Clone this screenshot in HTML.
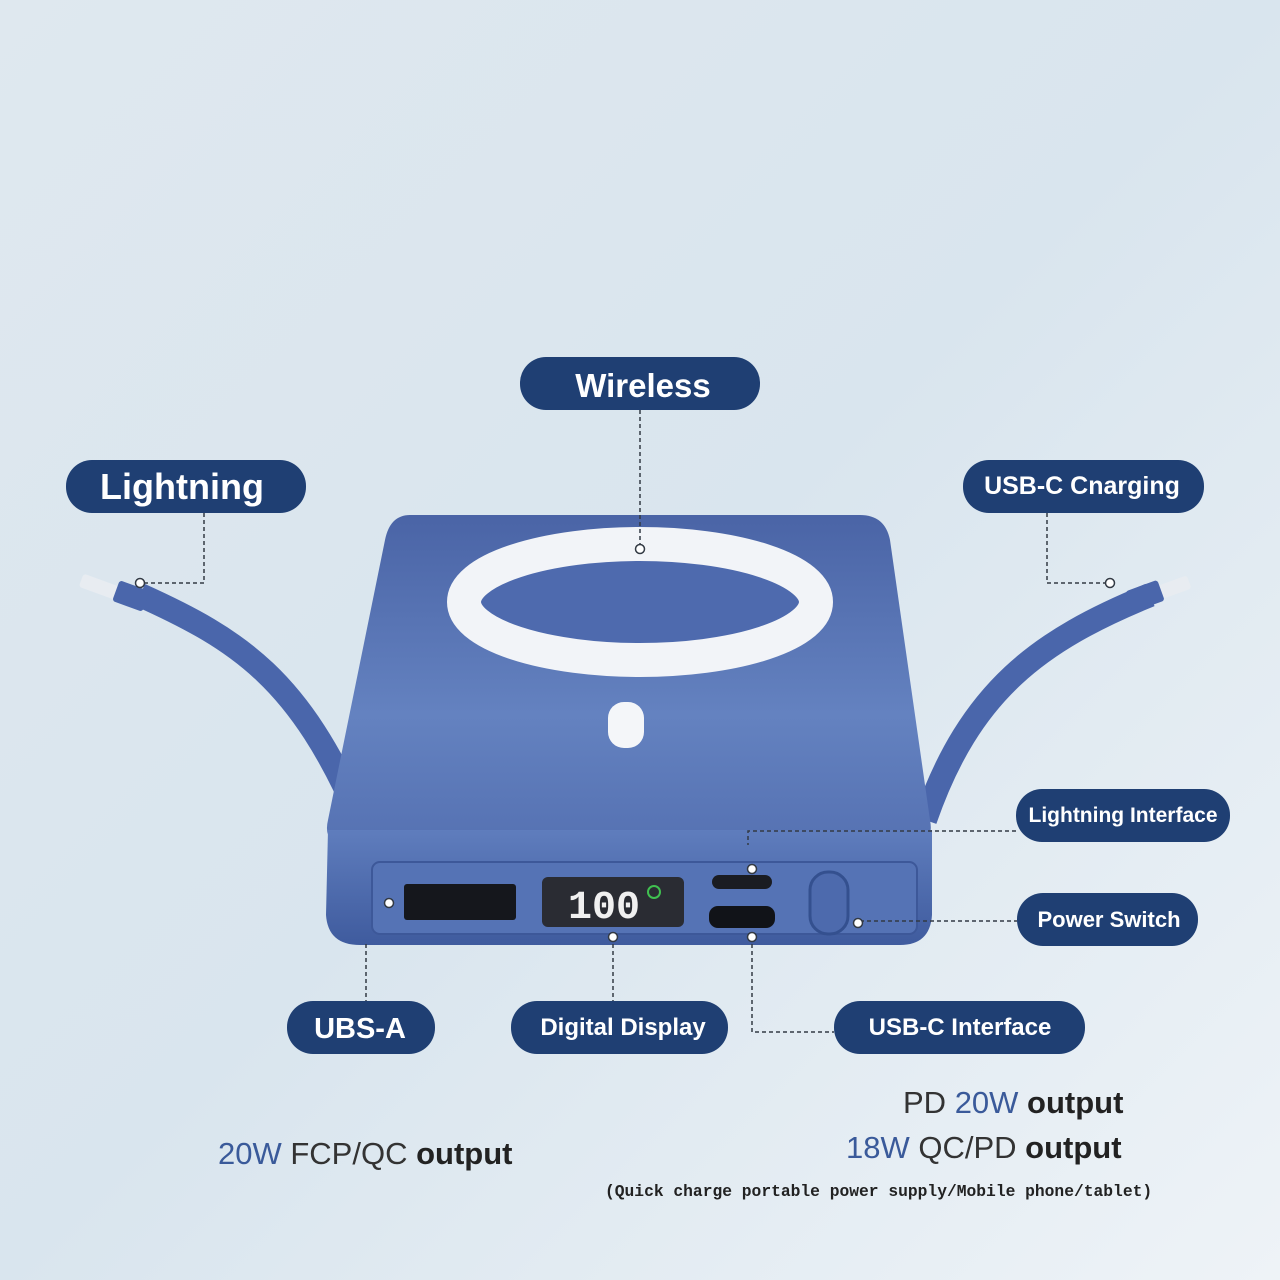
<!DOCTYPE html>
<html><head><meta charset="utf-8"><style>
html,body{margin:0;padding:0;width:1280px;height:1280px;overflow:hidden}
svg{display:block}
.lb{font-family:"Liberation Sans",sans-serif;font-weight:bold;fill:#fff}
</style></head><body>
<svg width="1280" height="1280" viewBox="0 0 1280 1280" xmlns="http://www.w3.org/2000/svg">
<defs>
<linearGradient id="bg" x1="0" y1="0" x2="1" y2="1">
<stop offset="0" stop-color="#dfe8ef"/><stop offset="0.5" stop-color="#d9e5ee"/><stop offset="1" stop-color="#eef3f7"/>
</linearGradient>
<linearGradient id="top" x1="0" y1="0" x2="0" y2="1">
<stop offset="0" stop-color="#4a64a6"/><stop offset="0.6" stop-color="#6482c0"/><stop offset="1" stop-color="#5571b2"/>
</linearGradient>
<linearGradient id="front" x1="0" y1="0" x2="0" y2="1">
<stop offset="0" stop-color="#5f7dbd"/><stop offset="1" stop-color="#3f5b9e"/>
</linearGradient>
</defs>
<rect width="1280" height="1280" fill="url(#bg)"/>
<path d="M140 595 C240 640 300 680 360 820" stroke="#4a66ab" stroke-width="24" fill="none"/>
<path d="M1150 595 C1040 640 970 690 925 820" stroke="#4a66ab" stroke-width="24" fill="none"/>
<rect x="80" y="580" width="40" height="14" rx="3" fill="#e8ecf1" transform="rotate(20 100 587)"/>
<rect x="115" y="585" width="32" height="22" rx="3" fill="#4a66ab" transform="rotate(20 131 596)"/>
<rect x="1160" y="580" width="30" height="14" rx="3" fill="#e8ecf1" transform="rotate(-20 1175 587)"/>
<rect x="1128" y="585" width="34" height="22" rx="3" fill="#4a66ab" transform="rotate(-20 1145 596)"/>
<path d="M410 515 L860 515 Q885 515 890 540 L930 820 Q935 845 910 848 L350 848 Q322 845 328 820 L385 540 Q390 515 410 515 Z" fill="url(#top)"/>
<path d="M328 830 L932 830 L932 915 Q930 945 900 945 L360 945 Q328 945 326 915 Z" fill="url(#front)"/>
<rect x="372" y="862" width="545" height="72" rx="8" fill="#5573b5" stroke="#3d5899" stroke-width="2"/>
<ellipse cx="640" cy="602" rx="176" ry="58" fill="#4e6aae" stroke="#f2f4f8" stroke-width="34"/>
<rect x="608" y="702" width="36" height="46" rx="16" fill="#f4f6f9"/>
<rect x="404" y="884" width="112" height="36" rx="3" fill="#15171c"/>
<rect x="542" y="877" width="142" height="50" rx="6" fill="#2a2c33"/>
<text x="568" y="918" font-family="Liberation Mono,monospace" font-size="40" font-weight="bold" fill="#f0f0f0">100</text>
<circle cx="654" cy="892" r="6" fill="none" stroke="#40c050" stroke-width="2"/>
<rect x="712" y="875" width="60" height="14" rx="7" fill="#1a1c22"/>
<rect x="709" y="906" width="66" height="22" rx="9" fill="#111318"/>
<rect x="810" y="872" width="38" height="62" rx="18" fill="#4d6aad" stroke="#34508f" stroke-width="3"/>
<g stroke="#333a44" stroke-width="1.5" stroke-dasharray="4 3" fill="none">
<path d="M640 410 V548"/>
<path d="M204 513 V583 H140"/>
<path d="M1047 513 V583 H1110"/>
<path d="M1016 831 H748 V845"/>
<path d="M860 921 H1017"/>
<path d="M366 944 V1001"/>
<path d="M613 937 V1001"/>
<path d="M752 937 V1032 H834"/>
</g>
<g fill="#fff" stroke="#333a44" stroke-width="1.5">
<circle cx="640" cy="549" r="4.5"/><circle cx="140" cy="583" r="4.5"/><circle cx="1110" cy="583" r="4.5"/>
<circle cx="752" cy="869" r="4.5"/><circle cx="858" cy="923" r="4.5"/><circle cx="389" cy="903" r="4.5"/>
<circle cx="613" cy="937" r="4.5"/><circle cx="752" cy="937" r="4.5"/>
</g>
<g fill="#1f3f73">
<rect x="520" y="357" width="240" height="53" rx="26"/>
<rect x="66" y="460" width="240" height="53" rx="26"/>
<rect x="963" y="460" width="241" height="53" rx="26"/>
<rect x="1016" y="789" width="214" height="53" rx="26"/>
<rect x="1017" y="893" width="181" height="53" rx="26"/>
<rect x="287" y="1001" width="148" height="53" rx="26"/>
<rect x="511" y="1001" width="217" height="53" rx="26"/>
<rect x="834" y="1001" width="251" height="53" rx="26"/>
</g>
<text class="lb" x="643" y="397" font-size="33" text-anchor="middle">Wireless</text>
<text class="lb" x="182" y="499" font-size="36" text-anchor="middle">Lightning</text>
<text class="lb" x="1082" y="494" font-size="25" text-anchor="middle">USB-C Cnarging</text>
<text class="lb" x="1123" y="822" font-size="21" text-anchor="middle">Lightning Interface</text>
<text class="lb" x="1109" y="927" font-size="22" text-anchor="middle">Power Switch</text>
<text class="lb" x="360" y="1038" font-size="29" text-anchor="middle">UBS-A</text>
<text class="lb" x="623" y="1035" font-size="24" text-anchor="middle">Digital Display</text>
<text class="lb" x="960" y="1035" font-size="24" text-anchor="middle">USB-C Interface</text>
<g font-family="Liberation Sans,sans-serif" font-size="31">
<text x="218" y="1164"><tspan fill="#3a5a9a">20W</tspan><tspan fill="#333"> FCP/QC </tspan><tspan fill="#222" font-weight="bold">output</tspan></text>
<text x="903" y="1113"><tspan fill="#333">PD </tspan><tspan fill="#3a5a9a">20W</tspan><tspan fill="#222" font-weight="bold"> output</tspan></text>
<text x="846" y="1158"><tspan fill="#3a5a9a">18W</tspan><tspan fill="#333"> QC/PD </tspan><tspan fill="#222" font-weight="bold">output</tspan></text>
</g>
<text x="605" y="1196" font-family="Liberation Mono,monospace" font-size="16.3" font-weight="bold" fill="#222">(Quick charge portable power supply/Mobile phone/tablet)</text>
</svg>
</body></html>
